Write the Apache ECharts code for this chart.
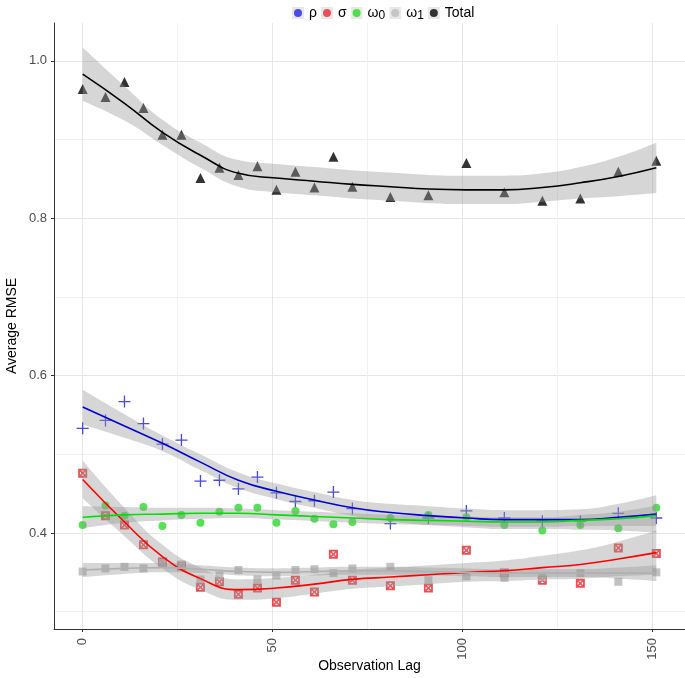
<!DOCTYPE html>
<html>
<head>
<meta charset="utf-8">
<script src="https://cdn.jsdelivr.net/npm/echarts@6/dist/echarts.min.js"></script>
<style>html,body{margin:0;padding:0;background:#fff}#c{width:685px;height:678px}</style>
</head>
<body>
<div id="c"></div>
<script>
// Observation lags of the points
const lagX = [0,6,11,16,21,26,31,36,41,46,51,56,61,66,71,81,91,101,111,121,131,141,151];
// Points
const rhoPts    = [0.533,0.543,0.567,0.539,0.513,0.518,0.466,0.467,0.456,0.471,0.451,0.440,0.441,0.452,0.431,0.412,0.419,0.428,0.419,0.415,0.415,0.425,0.419];
const sigmaPts  = [0.476,0.422,0.410,0.385,0.363,0.358,0.331,0.338,0.322,0.330,0.312,0.340,0.325,0.373,0.340,0.333,0.330,0.378,0.349,0.340,0.336,0.381,0.374];
const omega0Pts = [0.410,0.435,0.422,0.433,0.409,0.423,0.413,0.427,0.432,0.432,0.413,0.428,0.418,0.411,0.414,0.419,0.423,0.420,0.410,0.403,0.410,0.406,0.432];
const omega1Pts = [0.351,0.355,0.357,0.355,0.362,0.360,0.341,0.346,0.353,0.341,0.346,0.353,0.354,0.349,0.355,0.357,0.340,0.345,0.343,0.344,0.349,0.338,0.350];
const totalPts  = [0.964,0.954,0.973,0.940,0.906,0.906,0.851,0.864,0.855,0.866,0.836,0.859,0.839,0.878,0.840,0.827,0.829,0.870,0.833,0.822,0.825,0.859,0.873];

// Smoothed fits and half-widths of the confidence bands
const fitX = [0,11,21,31,41,51,61,71,81,91,101,111,121,131,141,151];
const rhoFit    = [0.560,0.536,0.514,0.490,0.467,0.453,0.442,0.432,0.426,0.422,0.419,0.417,0.417,0.417,0.420,0.424];
const rhoHw     = [0.022,0.015,0.010,0.010,0.010,0.010,0.010,0.010,0.011,0.012,0.012,0.012,0.012,0.013,0.017,0.024];
const sigmaFit  = [0.468,0.414,0.370,0.342,0.328,0.330,0.335,0.341,0.344,0.347,0.350,0.352,0.356,0.360,0.367,0.375];
const sigmaHw   = [0.024,0.018,0.015,0.014,0.013,0.013,0.012,0.012,0.012,0.012,0.012,0.013,0.015,0.018,0.022,0.028];
const omega0Fit = [0.420,0.423,0.424,0.425,0.425,0.423,0.421,0.419,0.417,0.416,0.415,0.414,0.414,0.416,0.418,0.422];
const omega0Hw  = [0.014,0.010,0.008,0.007,0.006,0.006,0.006,0.006,0.006,0.006,0.006,0.006,0.006,0.007,0.009,0.013];
const omega1Fit = [0.353,0.355,0.356,0.354,0.351,0.350,0.351,0.352,0.352,0.351,0.350,0.349,0.349,0.349,0.349,0.349];
const omega1Hw  = [0.009,0.007,0.006,0.005,0.005,0.005,0.005,0.005,0.005,0.005,0.005,0.005,0.005,0.005,0.007,0.010];
const totalFit  = [0.983,0.946,0.909,0.880,0.857,0.851,0.847,0.843,0.840,0.837,0.836,0.836,0.839,0.845,0.853,0.864];
const totalHw   = [0.034,0.022,0.016,0.016,0.017,0.018,0.018,0.018,0.018,0.018,0.018,0.018,0.018,0.020,0.025,0.032];

const xMajor = [0,50,100,150];
const xMinor = [25,75,125];
const yMajor = [0.4,0.6,0.8,1.0];
const yMinor = [0.3,0.5,0.7,0.9];

const FONT = 'Liberation Sans, Arial, sans-serif';
const plusPath = 'path://M4.45,0H5.55V4.45H10V5.55H5.55V10H4.45V5.55H0V4.45H4.45Z';
// filled square with an X cut into it (square-cross look)
const sqxPath = 'path://M0,0H10V10H0Z M3.2,2L5,3.8L6.8,2Z M8,3.2L6.2,5L8,6.8Z M6.8,8L5,6.2L3.2,8Z M2,6.8L3.8,5L2,3.2Z';

const groups = [
  {name:'ρ', pts:rhoPts, fit:rhoFit, hw:rhoHw, line:'#0000d8', pt:'#1c1cd0', symbol:plusPath, size:12, key:'#1f1fe6'},
  {name:'σ', pts:sigmaPts, fit:sigmaFit, hw:sigmaHw, line:'#ff0000', pt:'#e3262a', symbol:sqxPath, size:9, key:'#e8252a'},
  {name:'ω0', pts:omega0Pts, fit:omega0Fit, hw:omega0Hw, line:'#00e000', pt:'#2ad82a', symbol:'circle', size:8, key:'#22d822'},
  {name:'ω1', pts:omega1Pts, fit:omega1Fit, hw:omega1Hw, line:'#b0b0b0', pt:'#b3b3b3', symbol:'rect', size:8, key:'#b8b8b8'},
  {name:'Total', pts:totalPts, fit:totalFit, hw:totalHw, line:'#000000', pt:'#000000', symbol:'triangle', size:10, key:'#000000'}
];

function keyIcon(color){
  const svg = '<svg xmlns="http://www.w3.org/2000/svg" width="12" height="12"><rect width="12" height="12" fill="#e3e3e3"/><circle cx="6" cy="6" r="4" fill="' + color + '"/></svg>';
  return 'image://data:image/svg+xml;charset=utf-8,' + encodeURIComponent(svg);
}

const series = [];
groups.forEach(function(g){
  series.push({
    name: g.name, type: 'scatter', z: 1,
    symbol: g.symbol, symbolSize: g.size,
    itemStyle: {color: g.pt},
    data: lagX.map(function(x,i){return [x, g.pts[i]];})
  });
});
// confidence bands: stacked lines, data given as [y, x] so the y dimension is the stacked one
groups.forEach(function(g, k){
  series.push({
    name: g.name + '_lo', type: 'line', stack: 'band' + k, z: 2, silent: true,
    smooth: true, symbol: 'none', lineStyle: {opacity: 0},
    encode: {x: 1, y: 0},
    data: fitX.map(function(x,i){return [g.fit[i] - g.hw[i], x];})
  });
  series.push({
    name: g.name + '_hi', type: 'line', stack: 'band' + k, z: 2, silent: true,
    smooth: true, symbol: 'none', lineStyle: {opacity: 0},
    areaStyle: {color: 'rgba(153,153,153,0.4)', opacity: 1},
    encode: {x: 1, y: 0},
    data: fitX.map(function(x,i){return [2 * g.hw[i], x];})
  });
});
groups.forEach(function(g){
  series.push({
    name: g.name + '_fit', type: 'line', z: 3, silent: true,
    smooth: true, symbol: 'none',
    lineStyle: {color: g.line, width: 1.6},
    data: fitX.map(function(x,i){return [x, g.fit[i]];})
  });
});

const chart = echarts.init(document.getElementById('c'), null, {renderer: 'canvas'});
chart.setOption({
  animation: false,
  backgroundColor: '#ffffff',
  textStyle: {fontFamily: FONT},
  legend: {
    top: 1, left: 287, itemGap: 4, itemWidth: 12, itemHeight: 12,
    textStyle: {fontFamily: FONT, fontSize: 14, color: '#000',
      rich: {s: {fontFamily: FONT, fontSize: 12, color: '#000', padding: [6,0,0,0]}}},
    formatter: function(name){
      if (name.charAt(0) === 'ω') return 'ω{s|' + name.slice(1) + '}';
      return name;
    },
    data: groups.map(function(g){return {name: g.name, icon: keyIcon(g.key)};})
  },
  grid: {left: 54, right: 0, top: 23, bottom: 49, containLabel: false, outerBoundsMode: 'none'},
  xAxis: [{
    type: 'value', min: -7.55, max: 158.55,
    name: 'Observation Lag', nameLocation: 'middle', nameGap: 30, nameMoveOverlap: false,
    nameTextStyle: {fontFamily: FONT, fontSize: 14, color: '#000'},
    axisLine: {show: true, onZero: false, lineStyle: {color: '#333', width: 1}},
    axisTick: {show: true, length: 3, customValues: xMajor, lineStyle: {color: '#333'}},
    axisLabel: {customValues: xMajor, rotate: 90, margin: 9, fontSize: 13, color: '#4d4d4d', fontFamily: FONT},
    splitLine: {show: true, lineStyle: {color: '#e6e6e6', width: 1}}
  }, {
    type: 'value', min: -7.55, max: 158.55, position: 'bottom',
    axisLine: {show: false, onZero: false},
    axisTick: {show: false, customValues: xMinor},
    axisLabel: {show: false, customValues: xMinor},
    splitLine: {show: true, lineStyle: {color: '#f1f1f1', width: 1}}
  }],
  yAxis: [{
    type: 'value', min: 0.278, max: 1.048,
    name: 'Average RMSE', nameLocation: 'middle', nameGap: 35, nameMoveOverlap: false,
    nameTextStyle: {fontFamily: FONT, fontSize: 14, color: '#000'},
    axisLine: {show: true, onZero: false, lineStyle: {color: '#333', width: 1}},
    axisTick: {show: true, length: 3, customValues: yMajor, lineStyle: {color: '#333'}},
    axisLabel: {customValues: yMajor, margin: 7, fontSize: 13, color: '#4d4d4d', fontFamily: FONT,
      formatter: function(v){return v.toFixed(1);}},
    splitLine: {show: true, lineStyle: {color: '#e6e6e6', width: 1}}
  }, {
    type: 'value', min: 0.278, max: 1.048, position: 'left',
    axisLine: {show: false, onZero: false},
    axisTick: {show: false, customValues: yMinor},
    axisLabel: {show: false, customValues: yMinor},
    splitLine: {show: true, lineStyle: {color: '#f1f1f1', width: 1}}
  }],
  series: series
});
</script>
</body>
</html>
